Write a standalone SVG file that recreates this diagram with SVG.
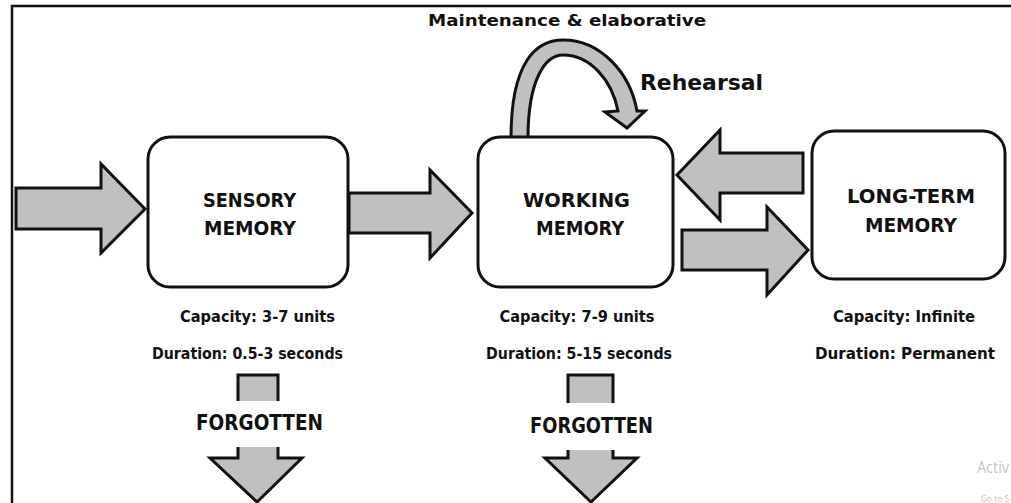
<svg xmlns="http://www.w3.org/2000/svg" width="1011" height="503" viewBox="0 0 1011 503">
<style>
  .frame{fill:none;stroke:#111;stroke-width:2.5}
  .box{fill:#fff;stroke:#111;stroke-width:3}
  .arr{fill:#c0c0c0;stroke:#111;stroke-width:3;stroke-linejoin:miter}
  .fill{fill:#c0c0c0;stroke:none}
  .edge{fill:none;stroke:#111;stroke-width:3;stroke-linejoin:miter}
  text{font-family:"DejaVu Sans","Liberation Sans",sans-serif;font-weight:bold;fill:#111;text-anchor:middle}
  .big{font-size:20px}
  .small{font-size:15.5px}
  .fg{font-size:20.5px}
  .wm{font-family:"Open Sans","Liberation Sans",sans-serif;font-weight:normal;fill:#c4c4c4;text-anchor:start}
</style>
<rect width="1011" height="503" fill="#fff"/>
<path class="frame" d="M12 503 L12 6 L1011 6"/>

<g id="connectors">
  <path class="arr" d="M16 188 L101 188 L101 164 L145 209 L101 253 L101 229 L16 229 Z"/>
  <path class="arr" d="M349 193 L430 193 L430 170 L472 213 L430 258 L430 233 L349 233 Z"/>
  <path class="arr" d="M803 153 L720 153 L720 130 L677 175 L720 220 L720 193 L803 193 Z"/>
  <path class="arr" d="M682 230 L767 230 L767 207 L808 250 L767 295 L767 270 L682 270 Z"/>
  <path id="rehearsal-loop" class="arr" d="M511 138 C511 62 536 40 563 40 C600 40 630 72 637 111 L645 111 L627 128 L605 112 L618 111 C612 80 590 55 563 55 C545 55 528 80 528 138 Z"/>
  <g id="forgotten-sm">
    <rect class="fill" x="238" y="375" width="40" height="26"/>
    <path class="edge" d="M238 401 L238 375 L278 375 L278 401"/>
    <path class="fill" d="M238 447 L238 458 L210 458 L257 502 L302 458 L278 458 L278 447 Z"/>
    <path class="edge" d="M238 447 L238 458 L210 458 L257 502 L302 458 L278 458 L278 447"/>
  </g>
  <g id="forgotten-wm">
    <rect class="fill" x="568" y="375" width="45" height="28"/>
    <path class="edge" d="M568 403 L568 375 L613 375 L613 403"/>
    <path class="fill" d="M568 450 L568 458 L545 458 L591 502 L637 458 L613 458 L613 450 Z"/>
    <path class="edge" d="M568 450 L568 458 L545 458 L591 502 L637 458 L613 458 L613 450"/>
  </g>
</g>

<g id="sensory">
  <rect class="box" x="148" y="137" width="200" height="150" rx="22"/>
  <text class="big" x="249.5" y="207" textLength="93" lengthAdjust="spacingAndGlyphs">SENSORY</text>
  <text class="big" x="250" y="235" textLength="92" lengthAdjust="spacingAndGlyphs">MEMORY</text>
  <text class="small" x="257.5" y="322" textLength="155" lengthAdjust="spacingAndGlyphs">Capacity: 3-7 units</text>
  <text class="small" x="247.5" y="359" textLength="191" lengthAdjust="spacingAndGlyphs">Duration: 0.5-3 seconds</text>
  <text class="fg" x="259.5" y="430" textLength="127" lengthAdjust="spacingAndGlyphs">FORGOTTEN</text>
</g>

<g id="working">
  <rect class="box" x="478" y="137" width="195" height="150" rx="22"/>
  <text class="big" x="576.5" y="207" textLength="107" lengthAdjust="spacingAndGlyphs">WORKING</text>
  <text class="big" x="580" y="235" textLength="88" lengthAdjust="spacingAndGlyphs">MEMORY</text>
  <text class="small" x="577" y="322" textLength="155" lengthAdjust="spacingAndGlyphs">Capacity: 7-9 units</text>
  <text class="small" x="579" y="359" textLength="186" lengthAdjust="spacingAndGlyphs">Duration: 5-15 seconds</text>
  <text class="fg" x="591.5" y="433" textLength="123" lengthAdjust="spacingAndGlyphs">FORGOTTEN</text>
</g>

<g id="longterm">
  <rect class="box" x="812" y="131" width="193" height="148" rx="22"/>
  <text class="big" x="911" y="203" textLength="128" lengthAdjust="spacingAndGlyphs">LONG-TERM</text>
  <text class="big" x="911" y="232" textLength="92" lengthAdjust="spacingAndGlyphs">MEMORY</text>
  <text class="small" x="904" y="322" textLength="142" lengthAdjust="spacingAndGlyphs">Capacity: Infinite</text>
  <text class="small" x="905" y="359" textLength="180" lengthAdjust="spacingAndGlyphs">Duration: Permanent</text>
</g>

<g id="rehearsal-label">
  <text style="font-size:16px" x="567" y="26" textLength="278" lengthAdjust="spacingAndGlyphs">Maintenance &amp; elaborative</text>
  <text style="font-size:21px" x="701.5" y="90" textLength="123" lengthAdjust="spacingAndGlyphs">Rehearsal</text>
</g>

<text class="wm" x="977" y="473" style="font-size:16px" textLength="32" lengthAdjust="spacingAndGlyphs">Activ</text>
<text class="wm" x="981" y="502" style="font-size:9px" textLength="28" lengthAdjust="spacingAndGlyphs">Go to S</text>
</svg>
